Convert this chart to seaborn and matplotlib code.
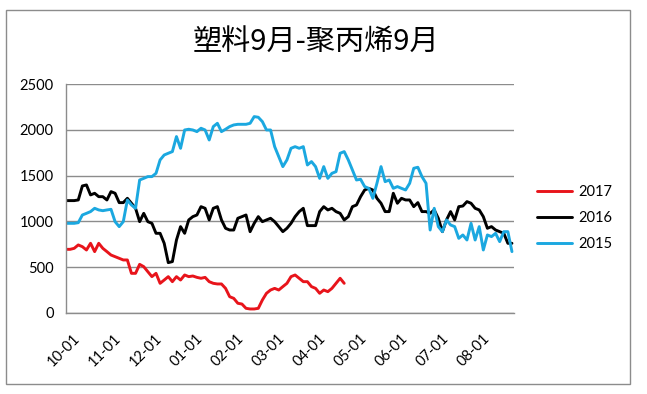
import matplotlib
matplotlib.use("Agg")
import matplotlib.pyplot as plt
import matplotlib.transforms as mtransforms
import seaborn as sns
import pandas as pd
import numpy as np
from matplotlib.patches import Rectangle

title = "塑料9月-聚丙烯9月"
tick_labels = ["10-01", "11-01", "12-01", "01-01", "02-01", "03-01",
               "04-01", "05-01", "06-01", "07-01", "08-01"]
points_per_month = 10

s2017 = [695, 695, 706, 743, 724, 688, 761, 670, 761, 706,
         670, 633, 615, 597, 579, 579, 433, 433, 531, 506,
         451, 397, 433, 324, 360, 397, 342, 397, 360, 415,
         397, 404, 389, 379, 389, 342, 324, 317, 317, 269,
         178, 160, 106, 98, 51, 44, 44, 51, 142, 215,
         251, 269, 251, 288, 324, 397, 415, 379, 342, 342,
         288, 269, 215, 251, 233, 269, 324, 379, 324]

s2016 = [1227, 1227, 1227, 1234, 1387, 1398, 1289, 1307, 1270, 1270,
         1234, 1325, 1307, 1205, 1205, 1252, 1198, 1143, 997, 1088,
         997, 979, 870, 870, 761, 550, 561, 797, 943, 870,
         1016, 1052, 1070, 1161, 1143, 1016, 1143, 1161, 1016, 925,
         906, 906, 1034, 1052, 1070, 888, 979, 1052, 997, 1016,
         1034, 997, 943, 888, 925, 979, 1052, 1107, 1143, 954,
         954, 954, 1107, 1161, 1125, 1143, 1107, 1088, 1016, 1052,
         1161, 1179, 1270, 1343, 1361, 1343, 1252, 1198, 1107, 1107,
         1307, 1198, 1252, 1234, 1234, 1161, 1205, 1107, 1107, 1088,
         1125, 1034, 888, 1016, 1107, 1016, 1161, 1168, 1216, 1198,
         1143, 1125, 1052, 925, 943, 906, 888, 870, 761, 761]

s2015 = [979, 979, 979, 986, 1070, 1088, 1107, 1143, 1125, 1117,
         1125, 1132, 997, 943, 997, 1234, 1179, 1143, 1452, 1470,
         1489, 1489, 1525, 1671, 1725, 1744, 1762, 1926, 1798, 1998,
         2006, 1998, 1980, 2017, 1998, 1889, 2035, 2071, 1980, 2006,
         2035, 2053, 2060, 2060, 2060, 2071, 2144, 2137, 2089, 1998,
         1998, 1816, 1707, 1598, 1671, 1798, 1816, 1798, 1816, 1616,
         1653, 1598, 1470, 1598, 1470, 1525, 1543, 1744, 1762, 1671,
         1562, 1452, 1460, 1380, 1361, 1252, 1416, 1598, 1434, 1452,
         1361, 1380, 1361, 1343, 1416, 1580, 1591, 1489, 1416, 906,
         1143, 943, 888, 1016, 961, 943, 815, 852, 797, 979,
         797, 943, 688, 852, 834, 870, 779, 888, 888, 670]

series = {"2017": s2017, "2016": s2016, "2015": s2015}
colors = {"2017": "#E8141B", "2016": "#000000", "2015": "#1BA8E0"}

rows = []
for name, vals in series.items():
    for i, v in enumerate(vals):
        rows.append({"idx": i, "value": v, "year": name})
df = pd.DataFrame(rows)

sns.set_theme(style="white")
plt.rcParams["font.family"] = ["Lato", "Noto Sans CJK SC", "DejaVu Sans"]
plt.rcParams["text.color"] = "black"
plt.rcParams["xtick.color"] = "black"
plt.rcParams["ytick.color"] = "black"

fig = plt.figure(figsize=(6.47, 3.94), dpi=100)
ax = fig.add_axes([66 / 647, 1 - 313 / 394, (514 - 66) / 647, (313 - 84) / 394])

sns.lineplot(data=df, x="idx", y="value", hue="year", palette=colors,
             hue_order=["2017", "2016", "2015"], linewidth=2.1, ax=ax,
             legend=True)

ax.set_xlim(0, 109.5)
ax.set_ylim(0, 2500)
ax.set_yticks(np.arange(0, 2501, 500))
ax.set_yticklabels([str(v) for v in range(0, 2501, 500)], fontsize=10.5)
ax.set_xticks([i * points_per_month for i in range(len(tick_labels))])
ax.set_xticklabels(tick_labels, rotation=45, ha="right",
                   rotation_mode="anchor", fontsize=10.5)
ax.tick_params(axis="y", length=0, pad=9)
ax.tick_params(axis="x", length=0, pad=13)
offset = mtransforms.ScaledTranslation(5 / 72, 0, fig.dpi_scale_trans)
for lab in ax.get_xticklabels():
    lab.set_transform(lab.get_transform() + offset)
ax.set_xlabel("")
ax.set_ylabel("")
ax.grid(axis="y", color="#8c8c8c", linewidth=1.0)
ax.set_axisbelow(True)
for side in ["top", "right"]:
    ax.spines[side].set_visible(False)
for side in ["left", "bottom"]:
    ax.spines[side].set_color("#8c8c8c")
    ax.spines[side].set_linewidth(1.0)

leg = ax.legend(loc="center left", bbox_to_anchor=(537 / 647, 1 - 218 / 394),
                bbox_transform=fig.transFigure, borderaxespad=0,
                borderpad=0, frameon=False, fontsize=10.5,
                handlelength=2.4, handletextpad=0.45, labelspacing=0.85)
for line in leg.get_lines():
    line.set_linewidth(2.1)

fig.text(316 / 647, 1 - 42 / 394, title, ha="center", va="center",
         fontsize=21, family=["Noto Sans CJK SC", "DejaVu Sans"])

fig.patches.append(Rectangle((6 / 647, 1 - 384 / 394), 624 / 647,
                             374 / 394, transform=fig.transFigure,
                             fill=False, edgecolor="#8c8c8c",
                             linewidth=1.0))

fig.savefig("out.png", dpi=100)
